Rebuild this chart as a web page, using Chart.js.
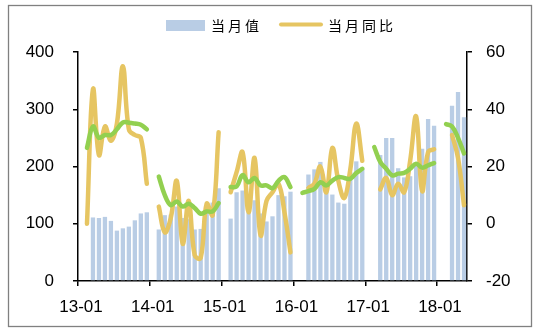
<!DOCTYPE html>
<html>
<head>
<meta charset="utf-8">
<script src="https://cdn.jsdelivr.net/npm/chart.js@4.4.1/dist/chart.umd.min.js"></script>
<style>
  body { margin: 0; background: #fff; }
  canvas { display: block; }
</style>
</head>
<body>
<canvas id="myChart" width="537" height="331"></canvas>
<script>
// months 13-01 .. 18-05
const months = [
  "13-01","13-02","13-03","13-04","13-05","13-06","13-07","13-08","13-09","13-10","13-11","13-12",
  "14-01","14-02","14-03","14-04","14-05","14-06","14-07","14-08","14-09","14-10","14-11","14-12",
  "15-01","15-02","15-03","15-04","15-05","15-06","15-07","15-08","15-09","15-10","15-11","15-12",
  "16-01","16-02","16-03","16-04","16-05","16-06","16-07","16-08","16-09","16-10","16-11","16-12",
  "17-01","17-02","17-03","17-04","17-05","17-06","17-07","17-08","17-09","17-10","17-11","17-12",
  "18-01","18-02","18-03","18-04","18-05"
];

// 当月值 (left axis)
const monthValue = [
  null, null, 111, 110, 112, 105, 88, 92, 95, 106, 118, 120,
  null, 90, 115, 116, 130, 110, 108, 90, 91, 126, 137, 162,
  null, 109, 155, 158, 148, 141, 118, 104, 113, 150, 148, 156,
  null, null, 186, 195, 208, 175, 151, 137, 135, 190, 209, 198,
  null, null, 220, 250, 250, 197, 181, 183, 205, 231, 283, 271,
  null, null, 306, 330, 286
];

// 当月同比 (right axis, %)
const monthYoY = [
  null, 0, 47, 24, 34, 29, 35, 55, 33, 31, 30, 14,
  null, 6, -3, 2, 15, -7, 8, -11, -12, 7, 3, 32,
  null, 11, 18, 25, 4, 23, -4, 8, 11, 14, 4, -10,
  null, null, 12.5, 14, 20, 11, 26.5, 15, 9, 19, 35, 22,
  null, null, 12, 16, 10, 14, 11, 22, 37.5, 11.5, 25, 26,
  null, null, 31, 23, 6.5
];

// cumulative yoy (right axis, %)
const cumYoY = [
  null, 26.5, 34, 30, 31, 31, 33, 35.4, 35.3, 35, 34.6, 33,
  null, 16.5, 10, 6.5, 7.8, 6, 7, 5.5, 3.5, 4.3, 4.3, 7.2,
  null, 12.8, 13, 17, 14.5, 16, 13.4, 13.4, 12.4, 15, 16.3, 12.8,
  null, 10.8, 11.4, 12.2, 14.5, 13.4, 15.1, 16.3, 16, 15.7, 17.7, 19.2,
  null, 26.8, 21.6, 19.2, 16.9, 17.5, 17.8, 19.2, 21, 19.6, 20.4, 21.2,
  null, 34.8, 34, 30, 24.6
];

const barColor = "#B9CDE5";
const yoyColor = "#E6C562";
const cumColor = "#92D050";
const tickFont = { family: "'Liberation Sans', Arial, sans-serif", size: 17 };

// white background + grey frame
const framePlugin = {
  id: "frame",
  beforeDraw(chart) {
    const c = chart.ctx;
    c.save();
    c.fillStyle = "#fff";
    c.fillRect(0, 0, chart.width, chart.height);
    c.restore();
  },
  afterDraw(chart) {
    const c = chart.ctx;
    c.save();
    c.strokeStyle = "#808080";
    c.lineWidth = 1.3;
    c.strokeRect(8.5, 5.5, 523, 321);
    c.restore();
  }
};

// legend on top: bar box + yellow line (green series has no entry)
const legendPlugin = {
  id: "topLegend",
  afterDraw(chart) {
    const c = chart.ctx;
    const ds = chart.data.datasets;
    c.save();
    c.fillStyle = ds[0].backgroundColor;
    c.fillRect(166, 20, 39, 11);
    c.strokeStyle = ds[1].borderColor;
    c.lineWidth = 4;
    c.lineCap = "round";
    c.beginPath();
    c.moveTo(281, 24.5);
    c.lineTo(321, 24.5);
    c.stroke();
    c.fillStyle = "#000";
    c.font = "14px 'Noto Sans CJK SC'";
    c.letterSpacing = "3px";
    c.textBaseline = "middle";
    c.fillText(ds[0].label, 211, 26);
    c.fillText(ds[1].label, 328, 26);
    c.restore();
  }
};

const ctx = document.getElementById("myChart").getContext("2d");

const chart = new Chart(ctx, {
  type: "bar",
  data: {
    labels: months,
    datasets: [
      {
        label: "当月值",
        data: monthValue,
        backgroundColor: barColor,
        yAxisID: "y",
        barPercentage: 0.9,
        categoryPercentage: 0.8,
        order: 2
      },
      {
        type: "line",
        label: "当月同比",
        data: monthYoY,
        borderColor: yoyColor,
        borderWidth: 4.5,
        borderCapStyle: "round",
        pointRadius: 0,
        tension: 0.4,
        yAxisID: "y1",
        order: 1
      },
      {
        type: "line",
        label: "累计同比",
        data: cumYoY,
        borderColor: cumColor,
        borderWidth: 4.5,
        borderCapStyle: "round",
        pointRadius: 0,
        tension: 0.4,
        yAxisID: "y1",
        order: 0
      }
    ]
  },
  options: {
    responsive: false,
    animation: false,
    layout: { padding: { top: 52 } },
    plugins: { legend: { display: false }, tooltip: { enabled: false } },
    scales: {
      x: {
        offset: true,
        grid: {
          offset: true,
          drawOnChartArea: false,
          tickLength: 5,
          lineWidth: 1.5,
          color: (c) => (c.index % 12 === 0 ? "#000" : "rgba(0,0,0,0)")
        },
        border: { color: "#000", width: 1.5 },
        ticks: {
          autoSkip: false,
          maxRotation: 0,
          padding: 11,
          color: "#000",
          font: tickFont,
          callback: (v, i) => (i % 12 === 0 ? months[i] : "")
        },
        afterFit: (s) => { s.height = 50; }
      },
      y: {
        position: "left",
        min: 0,
        max: 400,
        grid: { drawOnChartArea: false, tickLength: 5, lineWidth: 1.5, color: "#000" },
        border: { color: "#000", width: 1.5 },
        ticks: { stepSize: 100, padding: 19, color: "#000", font: tickFont },
        afterFit: (s) => { s.width = 78; }
      },
      y1: {
        position: "right",
        min: -20,
        max: 60,
        grid: { drawOnChartArea: false, tickLength: 5, lineWidth: 1.5, color: "#000" },
        border: { color: "#000", width: 1.5 },
        ticks: { stepSize: 20, padding: 14, color: "#000", font: tickFont },
        afterFit: (s) => { s.width = 70; }
      }
    }
  },
  plugins: [framePlugin, legendPlugin]
});
</script>
</body>
</html>
